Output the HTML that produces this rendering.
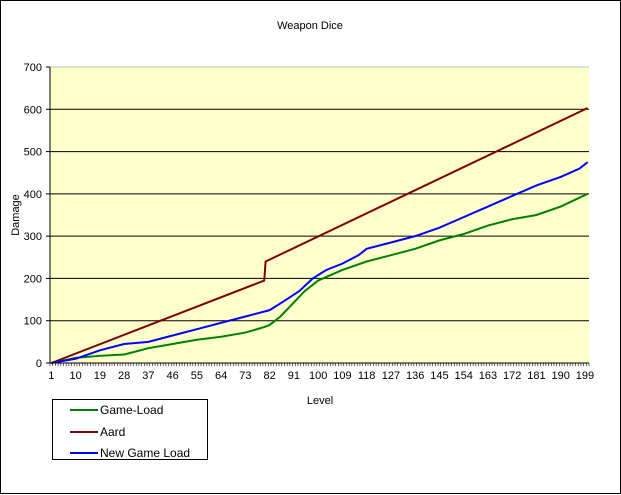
<!DOCTYPE html>
<html><head><meta charset="utf-8"><style>
body{margin:0;background:#fff;}
svg{display:block;font-family:"Liberation Sans",Arial,sans-serif;}
</style></head><body>
<svg id="chart" width="621" height="495">
<rect x="0.5" y="0.5" width="620" height="493" fill="#fff" stroke="#000"/>
<text x="310" y="29" font-size="11" text-anchor="middle">Weapon Dice</text>
<rect x="50" y="67" width="539" height="296" fill="#ffffcc"/>
<g id="grid"></g><g id="series"></g><g id="axes"></g>
<text x="320" y="404" font-size="11" text-anchor="middle">Level</text>
<text transform="translate(19,215) rotate(-90)" font-size="11" text-anchor="middle">Damage</text>
<g>
<rect x="52.5" y="399.5" width="155" height="60" fill="#fff" stroke="#000"/>
<g><line x1="70" y1="410" x2="98" y2="410" stroke="#008000" stroke-width="2"/><text x="100" y="414" font-size="12">Game-Load</text></g>
<g><line x1="70" y1="432" x2="98" y2="432" stroke="#800000" stroke-width="2"/><text x="100" y="436" font-size="12">Aard</text></g>
<g><line x1="70" y1="453" x2="98" y2="453" stroke="#0000ff" stroke-width="2"/><text x="100" y="457" font-size="12">New Game Load</text></g>
</g>
</svg>
<script>
const yTicks=[0,100,200,300,400,500,600,700];
const gameLoadLevels=[1,10,19,28,37,46,55,64,73,80,82,86,89,95,100,109,118,127,136,145,154,163,172,181,190,195,200];
const gameLoadValues=[0,12,17,20,35,45,55,62,72,85,90,110,130,170,195,220,240,255,270,290,305,325,340,350,370,385,400];
const aardLevels=[1,80,80.5,200];
const aardValues=[0,195,240,603];
const newLevels=[1,10,19,28,37,46,55,64,73,82,87,93,98,103,109,115,118,127,136,145,154,163,172,181,190,197,200];
const newValues=[0,10,30,45,50,65,80,95,110,125,145,170,200,220,235,255,270,285,300,320,345,370,395,420,440,460,475];
const NS="http://www.w3.org/2000/svg";
const X0=50,X1=589,Y0=363,Y1=67,N=200;
function xs(l){return X0+(l-0.5)*(X1-X0)/N;}
function ys(v){return Y0-v*(Y0-Y1)/700;}
function mk(t,a,p){const e=document.createElementNS(NS,t);for(const k in a)e.setAttribute(k,a[k]);p.appendChild(e);return e;}
const grid=document.getElementById('grid'),axes=document.getElementById('axes'),ser=document.getElementById('series');
yTicks.forEach(v=>{
 const g=mk('line',{x1:X0,x2:X1,y1:ys(v),y2:ys(v),stroke:v==700?'#c0c0c0':'#000','stroke-width':1},grid);
 
 
 const t=mk('text',{x:X0-8,y:ys(v)+4,'font-size':11,'text-anchor':'end'},axes);t.textContent=v;
 
 
 mk('line',{x1:X0-4,x2:X0,y1:ys(v),y2:ys(v),stroke:'#000'},axes);
});
mk('line',{x1:X0,x2:X0,y1:Y1,y2:Y0,stroke:'#000'},axes);
mk('line',{x1:X0,x2:X1,y1:Y0,y2:Y0,stroke:'#000'},axes);
for(let i=0;i<=N;i++){const x=X0+i*(X1-X0)/N;mk('line',{x1:x,x2:x,y1:Y0,y2:Y0+3,stroke:'#000','stroke-width':0.6},axes);}
for(let l=1;l<=N;l+=9){const t=mk('text',{x:xs(l),y:Y0+16,'font-size':11,'text-anchor':'middle'},axes);t.textContent=l;
 
 }
function line(ls,vs,c,name){
 const p=mk('polyline',{points:ls.map((l,i)=>xs(l)+','+ys(vs[i])).join(' '),fill:'none',stroke:c,'stroke-width':2},ser);
 
 
}
line(gameLoadLevels,gameLoadValues,'#008000','game-load-line');
line(aardLevels,aardValues,'#800000','aard-line');
line(newLevels,newValues,'#0000ff','new-game-load-line');
</script>
</body></html>
